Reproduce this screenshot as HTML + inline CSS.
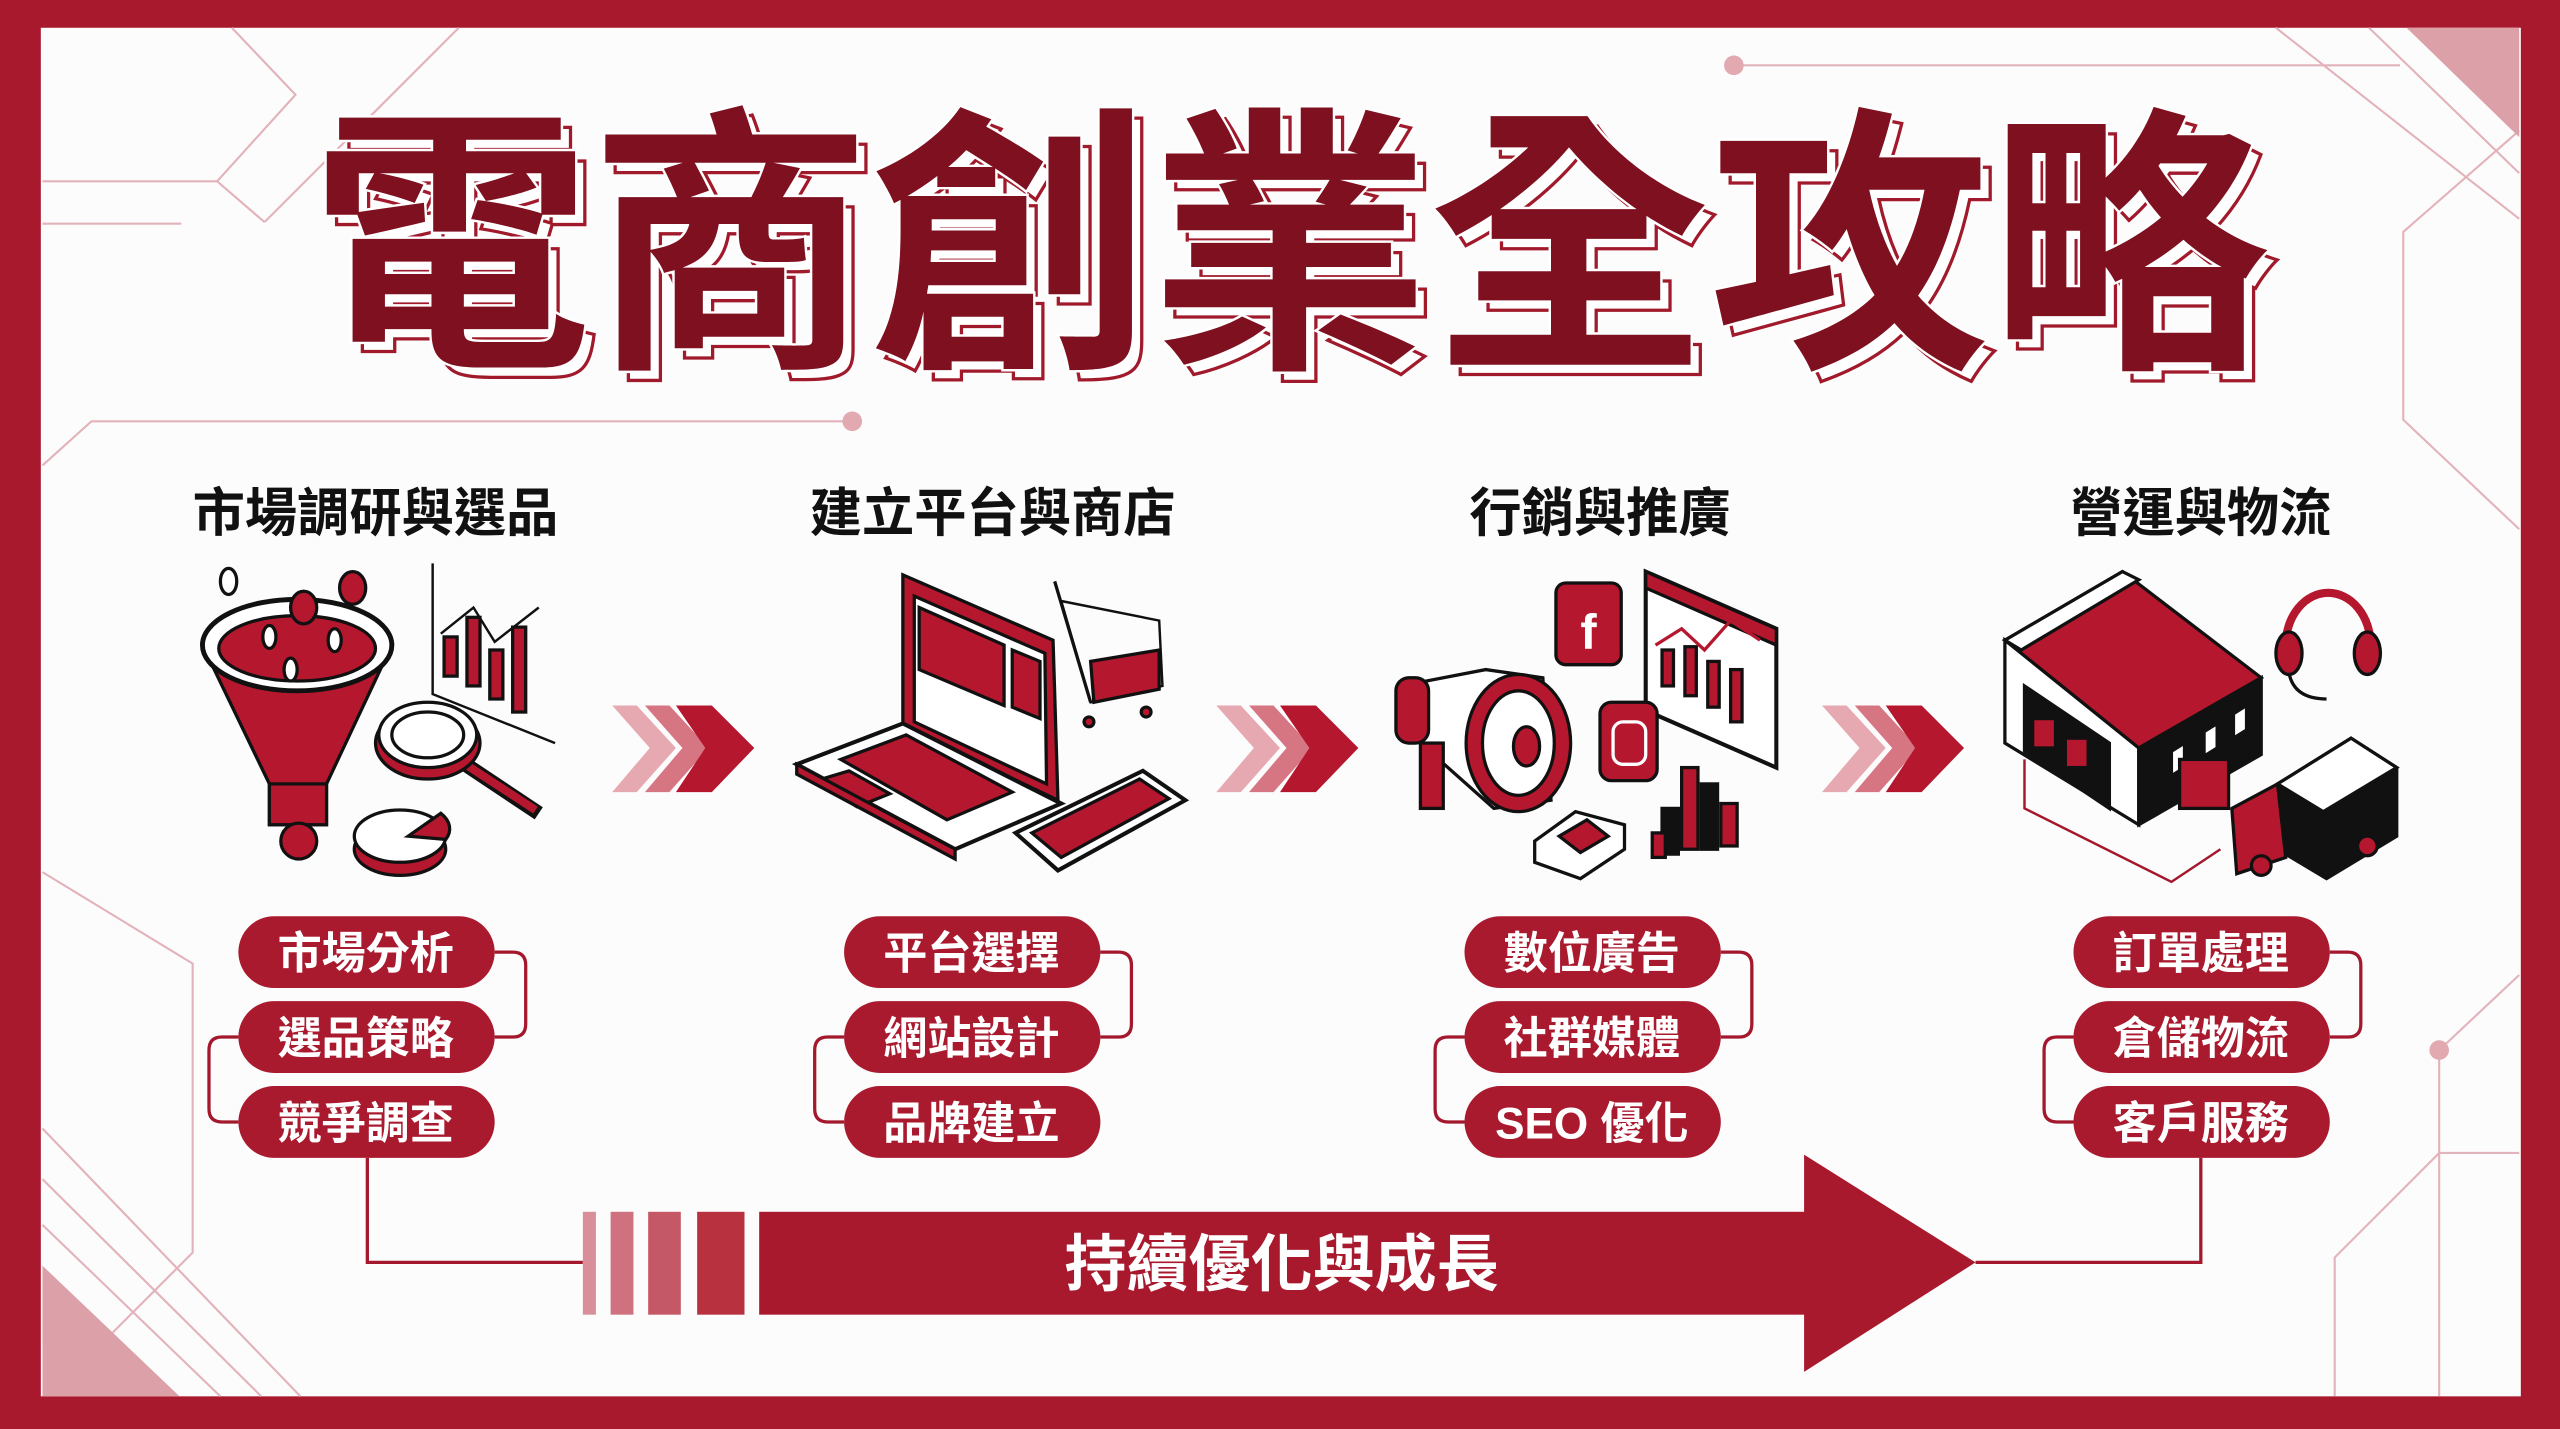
<!DOCTYPE html>
<html><head><meta charset="utf-8"><style>
html,body{margin:0;padding:0;background:#fff;}
svg{display:block;}
text{font-family:"Liberation Sans","Noto Sans CJK TC","Noto Sans CJK SC",sans-serif;font-weight:bold;}
</style></head><body>
<svg width="2560" height="1429" viewBox="0 0 1568 875" preserveAspectRatio="none" xmlns="http://www.w3.org/2000/svg">
<rect x="0" y="0" width="1568" height="875" fill="#a8192e"/>
<rect x="25" y="17" width="1519" height="838" fill="#fdfcfc"/>
<g stroke="#e2b3ba" stroke-width="1.3" fill="none">
<polyline points="142,17 181,58 133,111 162,136"/>
<line x1="281" y1="17" x2="162" y2="136"/>
<line x1="26" y1="111" x2="133" y2="111"/>
<line x1="26" y1="137" x2="111" y2="137"/>
<polyline points="26,285 56,258 520,258"/>
<polyline points="26,534 118,590 118,767 69,816"/>
<line x1="26" y1="691" x2="184" y2="855"/>
<line x1="26" y1="722" x2="160" y2="855"/>
<line x1="26" y1="750" x2="135" y2="855"/>
<line x1="1062" y1="40" x2="1470" y2="40"/>
<line x1="1394" y1="17" x2="1543" y2="134"/>
<line x1="1451" y1="17" x2="1543" y2="106"/>
<polyline points="1543,80 1472,142 1472,257 1543,324"/>
<line x1="1494" y1="643" x2="1543" y2="597"/>
<line x1="1494" y1="643" x2="1494" y2="855"/>
<line x1="1494" y1="706" x2="1543" y2="706"/>
<polyline points="1430,855 1430,770 1494,706"/>
</g>
<circle cx="522" cy="258" r="6" fill="#e2a9b1"/>
<circle cx="1062" cy="40" r="6" fill="#e2a9b1"/>
<circle cx="1494" cy="643" r="6" fill="#e2a9b1"/>
<polygon points="1474,17 1543,17 1543,84" fill="#dca0a8"/>
<polygon points="26,775 110,855 26,855" fill="#dca0a8"/>

<g font-size="172" text-anchor="middle">
<text x="796" y="218" fill="#fff" stroke="#a01a2c" stroke-width="2" textLength="1200" lengthAdjust="spacing">電商創業全攻略</text>
<text x="790" y="212" fill="#7e1020" stroke="#fff" stroke-width="3" paint-order="stroke" textLength="1200" lengthAdjust="spacing">電商創業全攻略</text>
</g>

<g font-size="32" fill="#111" text-anchor="middle">
<text x="230" y="325">市場調研與選品</text>
<text x="608" y="325">建立平台與商店</text>
<text x="980" y="325">行銷與推廣</text>
<text x="1348" y="325">營運與物流</text>
</g>

<g stroke="#111" stroke-width="2">
<path d="M124,395 L165,480 L165,505 L200,505 L200,480 L240,395 Z" fill="#b5172e"/>
<ellipse cx="182" cy="395" rx="58" ry="28" fill="#fff" stroke-width="3"/>
<ellipse cx="182" cy="397" rx="48" ry="20" fill="#b5172e"/>
<rect x="165" y="480" width="35" height="25" fill="#b5172e"/>
<ellipse cx="140" cy="356" rx="5" ry="8" fill="#fff"/>
<ellipse cx="186" cy="372" rx="8" ry="10" fill="#b5172e"/>
<ellipse cx="216" cy="360" rx="8" ry="10" fill="#b5172e"/>
<ellipse cx="165" cy="390" rx="4" ry="7" fill="#fff"/>
<ellipse cx="205" cy="392" rx="4" ry="7" fill="#fff"/>
<ellipse cx="178" cy="410" rx="4" ry="7" fill="#fff"/>
<polyline points="265,345 265,425 340,455" fill="none" stroke-width="1.5"/>
<rect x="272" y="390" width="8" height="24" fill="#b5172e"/>
<rect x="286" y="378" width="8" height="42" fill="#b5172e"/>
<rect x="300" y="398" width="8" height="30" fill="#b5172e"/>
<rect x="314" y="384" width="8" height="52" fill="#b5172e"/>
<polyline points="270,388 290,372 303,393 330,372" fill="none" stroke-width="1.5"/>
<line x1="282" y1="466" x2="330" y2="498" stroke-width="9"/>
<line x1="282" y1="466" x2="328" y2="496" stroke="#b5172e" stroke-width="5"/>
<ellipse cx="262" cy="455" rx="32" ry="22" fill="#b5172e"/>
<ellipse cx="262" cy="450" rx="30" ry="20" fill="#fff"/>
<ellipse cx="262" cy="450" rx="22" ry="14" fill="#fff"/>
<ellipse cx="245" cy="520" rx="28" ry="16" fill="#b5172e"/>
<ellipse cx="245" cy="512" rx="28" ry="16" fill="#fff"/>
<path d="M250,512 L270,498 A28,16 0 0 1 273,514 Z" fill="#b5172e"/>
<circle cx="183" cy="515" r="11" fill="#b5172e"/>
</g>
<g stroke="#111" stroke-width="2">
<polygon points="553,352 645,392 648,490 553,445" fill="#b5172e"/>
<polygon points="560,365 640,400 641,480 560,442" fill="#fff"/>
<polygon points="563,372 615,395 615,432 563,410" fill="#b5172e"/>
<polygon points="620,398 637,405 637,440 620,433" fill="#b5172e"/>
<polygon points="488,468 553,443 650,492 585,520" fill="#fff" stroke-width="2.5"/>
<polygon points="515,465 555,450 620,485 580,502" fill="#b5172e"/>
<polygon points="500,478 520,472 545,486 525,494" fill="#b5172e"/>
<polygon points="488,468 585,520 585,526 488,474" fill="#b5172e"/>
<polygon points="622,510 700,472 726,490 648,533" fill="#fff" stroke-width="2.5"/>
<polygon points="632,510 698,477 716,489 650,525" fill="#b5172e"/>
<polygon points="650,368 710,380 712,420 668,430" fill="none" stroke-width="1.5"/>
<polygon points="668,405 710,398 710,422 670,430" fill="#b5172e"/>
<line x1="646" y1="356" x2="668" y2="430" stroke-width="2"/>
<circle cx="667" cy="442" r="3" fill="#b5172e"/>
<circle cx="702" cy="436" r="3" fill="#b5172e"/>
</g>
<g stroke="#111" stroke-width="2">
<polygon points="858,420 910,410 945,415 950,490 915,495 870,455" fill="#fff"/>
<ellipse cx="930" cy="455" rx="32" ry="42" fill="#b5172e"/>
<ellipse cx="930" cy="455" rx="22" ry="32" fill="#fff"/>
<ellipse cx="935" cy="457" rx="8" ry="12" fill="#b5172e"/>
<rect x="855" y="415" width="20" height="40" rx="8" fill="#b5172e"/>
<rect x="870" y="455" width="14" height="40" fill="#b5172e"/>
<rect x="953" y="357" width="40" height="50" rx="6" fill="#b5172e"/>
<text x="973" y="397" font-size="30" fill="#fff" stroke="none" text-anchor="middle">f</text>
<polygon points="1008,350 1088,385 1088,470 1008,435" fill="#fff" stroke-width="2.5"/>
<polygon points="1008,350 1088,385 1088,395 1008,360" fill="#b5172e"/>
<rect x="1018" y="398" width="7" height="22" fill="#b5172e"/>
<rect x="1032" y="396" width="7" height="30" fill="#b5172e"/>
<rect x="1046" y="405" width="7" height="28" fill="#b5172e"/>
<rect x="1060" y="410" width="7" height="32" fill="#b5172e"/>
<polyline points="1014,395 1030,385 1044,398 1060,380 1078,392" fill="none" stroke="#b5172e" stroke-width="2"/>
<rect x="980" y="430" width="35" height="48" rx="7" fill="#b5172e"/>
<rect x="988" y="442" width="20" height="26" rx="6" fill="none" stroke="#fff" stroke-width="2"/>
<polygon points="940,515 965,497 995,505 995,520 968,538 940,528" fill="#fff"/>
<polygon points="955,512 972,502 985,512 968,522" fill="#b5172e"/>
<rect x="1030" y="470" width="10" height="50" fill="#b5172e"/>
<rect x="1018" y="495" width="10" height="28" fill="#111"/>
<rect x="1042" y="480" width="10" height="40" fill="#111"/>
<rect x="1054" y="492" width="10" height="26" fill="#b5172e"/>
<rect x="1012" y="510" width="8" height="15" fill="#b5172e"/>
</g>
<g stroke="#111" stroke-width="2">
<polygon points="1228,392 1300,350 1385,415 1310,458" fill="#b5172e"/>
<polygon points="1228,392 1300,350 1310,355 1238,398" fill="#fff"/>
<polygon points="1228,392 1310,458 1310,505 1228,455" fill="#fff"/>
<polygon points="1310,458 1385,415 1385,462 1310,505" fill="#111"/>
<polygon points="1240,420 1292,455 1292,495 1240,460" fill="#111"/>
<rect x="1245" y="440" width="14" height="18" fill="#b5172e"/>
<rect x="1265" y="452" width="14" height="18" fill="#b5172e"/>
<polygon points="1330,460 1338,455 1338,470 1330,475" fill="#fff"/>
<polygon points="1350,448 1358,443 1358,458 1350,463" fill="#fff"/>
<polygon points="1368,437 1376,432 1376,447 1368,452" fill="#fff"/>
<rect x="1335" y="465" width="30" height="30" fill="#b5172e"/>
<path d="M1400,395 A26,32 0 0 1 1452,395" fill="none" stroke="#b5172e" stroke-width="5"/>
<ellipse cx="1402" cy="400" rx="8" ry="13" fill="#b5172e"/>
<ellipse cx="1450" cy="400" rx="8" ry="13" fill="#b5172e"/>
<path d="M1402,412 Q1405,428 1425,428" fill="none"/>
<polygon points="1395,480 1440,452 1468,470 1468,512 1425,538 1395,520" fill="#111"/>
<polygon points="1395,480 1440,452 1468,470 1423,497" fill="#fff"/>
<polygon points="1367,495 1395,480 1400,525 1370,535" fill="#b5172e"/>
<circle cx="1385" cy="530" r="6" fill="#b5172e"/>
<circle cx="1450" cy="518" r="6" fill="#b5172e"/>
</g>
<polyline points="1240,465 1240,495 1330,540 1360,520" fill="none" stroke="#a3182d" stroke-width="1.5"/>

<g>
<polygon points="375,432 390,432 414,458 390,485 375,485 398,458" fill="#e6a9b1"/>
<polygon points="395,432 410,432 434,458 410,485 395,485 418,458" fill="#d67683"/>
<polygon points="414,432 436,432 462,458 436,485 414,485 432,458" fill="#b5172e"/>
<polygon points="745,432 760,432 784,458 760,485 745,485 768,458" fill="#e6a9b1"/>
<polygon points="765,432 780,432 804,458 780,485 765,485 788,458" fill="#d67683"/>
<polygon points="784,432 806,432 832,458 806,485 784,485 802,458" fill="#b5172e"/>
<polygon points="1116,432 1131,432 1155,458 1131,485 1116,485 1139,458" fill="#e6a9b1"/>
<polygon points="1136,432 1151,432 1175,458 1151,485 1136,485 1159,458" fill="#d67683"/>
<polygon points="1155,432 1177,432 1203,458 1177,485 1155,485 1173,458" fill="#b5172e"/>
</g>

<g fill="none" stroke="#a3182d" stroke-width="2">
<path d="M303,583 H314 Q322,583 322,591 V627 Q322,635 314,635 H303"/>
<path d="M146,635 H136 Q128,635 128,643 V679 Q128,687 136,687 H146"/>
<path d="M674,583 H685 Q693,583 693,591 V627 Q693,635 685,635 H674"/>
<path d="M517,635 H507 Q499,635 499,643 V679 Q499,687 507,687 H517"/>
<path d="M1054,583 H1065 Q1073,583 1073,591 V627 Q1073,635 1065,635 H1054"/>
<path d="M897,635 H887 Q879,635 879,643 V679 Q879,687 887,687 H897"/>
<path d="M1427,583 H1438 Q1446,583 1446,591 V627 Q1446,635 1438,635 H1427"/>
<path d="M1270,635 H1260 Q1252,635 1252,643 V679 Q1252,687 1260,687 H1270"/>
<polyline points="225,709 225,773 357,773"/>
<polyline points="1348,709 1348,773 1210,773"/>
</g>

<g fill="#a91a2f">
<rect x="146" y="561" width="157" height="44" rx="22"/><rect x="146" y="613" width="157" height="44" rx="22"/><rect x="146" y="665" width="157" height="44" rx="22"/>
<rect x="517" y="561" width="157" height="44" rx="22"/><rect x="517" y="613" width="157" height="44" rx="22"/><rect x="517" y="665" width="157" height="44" rx="22"/>
<rect x="897" y="561" width="157" height="44" rx="22"/><rect x="897" y="613" width="157" height="44" rx="22"/><rect x="897" y="665" width="157" height="44" rx="22"/>
<rect x="1270" y="561" width="157" height="44" rx="22"/><rect x="1270" y="613" width="157" height="44" rx="22"/><rect x="1270" y="665" width="157" height="44" rx="22"/>
</g>
<g font-size="27" fill="#fff" text-anchor="middle">
<text x="224" y="593">市場分析</text><text x="224" y="645">選品策略</text><text x="224" y="697">競爭調查</text>
<text x="595" y="593">平台選擇</text><text x="595" y="645">網站設計</text><text x="595" y="697">品牌建立</text>
<text x="975" y="593">數位廣告</text><text x="975" y="645">社群媒體</text><text x="975" y="697">SEO 優化</text>
<text x="1348" y="593">訂單處理</text><text x="1348" y="645">倉儲物流</text><text x="1348" y="697">客戶服務</text>
</g>

<rect x="357" y="742" width="8" height="63" fill="#d98f9a"/>
<rect x="374" y="742" width="14" height="63" fill="#cf717e"/>
<rect x="397" y="742" width="20" height="63" fill="#c55866"/>
<rect x="427" y="742" width="29" height="63" fill="#b8313f"/>
<rect x="465" y="742" width="645" height="63" fill="#a8192e"/>
<polygon points="1105,707 1210,773 1105,840" fill="#a8192e"/>
<text x="785" y="787" font-size="38" fill="#fff" text-anchor="middle">持續優化與成長</text>
</svg>
</body></html>
